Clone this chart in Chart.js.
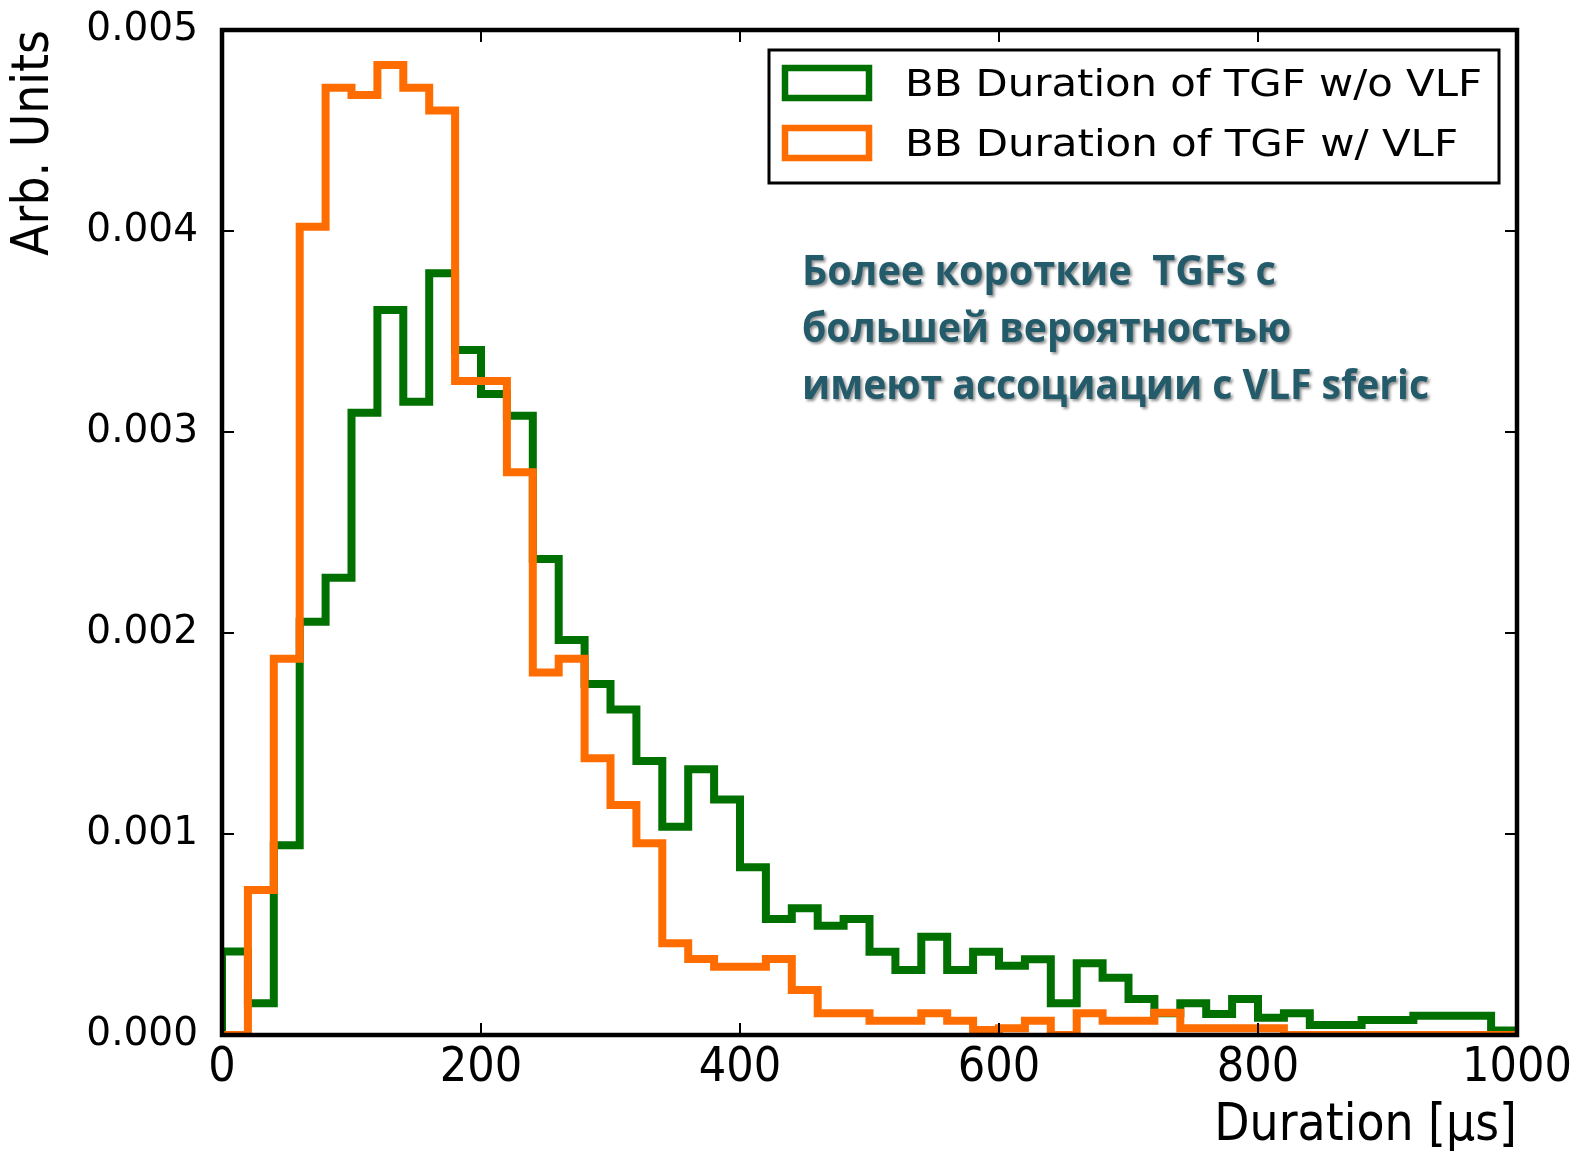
<!DOCTYPE html>
<html>
<head>
<meta charset="utf-8">
<script src="https://cdn.jsdelivr.net/npm/chart.js@4.4.1/dist/chart.umd.min.js"></script>
<style>
  body { margin: 0; background: #fff; }
</style>
</head>
<body>
<canvas id="myChart" width="1576" height="1152"></canvas>
<script>
// histogram, 50 bins of 20 us from 0 to 1000
const binWidth = 20;
const xTicks = [0, 200, 400, 600, 800, 1000];
const yTicks = [0, 0.001, 0.002, 0.003, 0.004, 0.005];

const noVlf = [
  0.000415, 0.000158, 0.000944, 0.002056, 0.002275, 0.003096, 0.003607, 0.003151, 0.003790, 0.003408,
  0.003189, 0.003081, 0.002368, 0.001965, 0.001746, 0.001620, 0.001363, 0.001036, 0.001322, 0.001172,
  0.000834, 0.000577, 0.000630, 0.000544, 0.000577, 0.000414, 0.000323, 0.000489, 0.000323, 0.000414,
  0.000345, 0.000377, 0.000158, 0.000357, 0.000285, 0.000179, 0.000108, 0.000158, 0.000104, 0.000179,
  0.000086, 0.000108, 0.000050, 0.000050, 0.000075, 0.000075, 0.000096, 0.000096, 0.000096, 0.000023
];

const withVlf = [
  0, 0.000721, 0.001872, 0.004021, 0.004713, 0.004677, 0.004826, 0.004713, 0.004599, 0.003254,
  0.003254, 0.002800, 0.001803, 0.001872, 0.001377, 0.001144, 0.000954, 0.000456, 0.000378, 0.000340,
  0.000340, 0.000378, 0.000224, 0.000108, 0.000108, 0.000071, 0.000071, 0.000108, 0.000071, 0.000025,
  0.000033, 0.000071, 0, 0.000108, 0.000071, 0.000071, 0.000111, 0.000033, 0.000033, 0.000033,
  0.000033, 0, 0, 0, 0, 0, 0, 0, 0, 0
];

const labels = ['BB Duration of TGF w/o VLF', 'BB Duration of TGF w/ VLF'];
const note = ['Более короткие  TGFs с', 'большей вероятностью', 'имеют ассоциации с VLF sferic'];

// step outline like matplotlib histtype='step'
function stepPoints(values) {
  const pts = [{ x: 0, y: 0 }];
  values.forEach((v, i) => pts.push({ x: i * binWidth, y: v }));
  const end = values.length * binWidth;
  pts.push({ x: end, y: values[values.length - 1] });
  pts.push({ x: end, y: 0 });
  return pts;
}

function drawFit(ctx, text, x, y, w, font) {
  ctx.font = font;
  const m = ctx.measureText(text).width;
  ctx.save();
  ctx.translate(x, y);
  ctx.scale(w / m, 1);
  ctx.fillText(text, 0, 0);
  ctx.restore();
}

const framePlugin = {
  id: 'frame',
  afterDraw(chart) {
    const { ctx, chartArea: a, scales } = chart;
    ctx.save();
    ctx.strokeStyle = '#000';
    ctx.lineWidth = 2;
    ctx.beginPath();
    scales.x.ticks.forEach(t => {
      const px = scales.x.getPixelForValue(t.value);
      ctx.moveTo(px, a.bottom); ctx.lineTo(px, a.bottom - 12);
      ctx.moveTo(px, a.top); ctx.lineTo(px, a.top + 12);
    });
    scales.y.ticks.forEach(t => {
      const py = scales.y.getPixelForValue(t.value);
      ctx.moveTo(a.left, py); ctx.lineTo(a.left + 12, py);
      ctx.moveTo(a.right, py); ctx.lineTo(a.right - 12, py);
    });
    ctx.stroke();
    ctx.lineWidth = 4.5;
    ctx.strokeRect(a.left, a.top, a.width, a.height);

    // legend box
    ctx.fillStyle = '#fff';
    ctx.fillRect(769, 50, 730, 133);
    ctx.lineWidth = 3;
    ctx.strokeRect(769, 50, 730, 133);
    const widths = [577, 553];
    chart.data.datasets.forEach((ds, i) => {
      const y0 = 68 + i * 60;
      ctx.strokeStyle = ds.borderColor;
      ctx.lineWidth = 6.5;
      ctx.strokeRect(785, y0, 84, 30);
      ctx.fillStyle = '#000';
      ctx.textBaseline = 'alphabetic';
      drawFit(ctx, ds.label, 905, y0 + 28, widths[i], '38px "DejaVu Sans"');
    });

    // annotation
    ctx.fillStyle = '#245b6a';
    ctx.shadowColor = 'rgba(0,0,0,0.45)';
    ctx.shadowOffsetX = 2;
    ctx.shadowOffsetY = 2;
    ctx.shadowBlur = 3;
    const noteW = [474, 489, 627];
    note.forEach((line, i) => {
      drawFit(ctx, line, 802, 285 + i * 57, noteW[i], 'bold 42px "Open Sans"');
    });
    ctx.restore();
  }
};

new Chart(document.getElementById('myChart'), {
  type: 'line',
  data: {
    datasets: [
      {
        label: labels[0],
        data: stepPoints(noVlf),
        borderColor: '#007000',
        borderWidth: 8,
        stepped: 'before',
        pointRadius: 0,
        fill: false,
        order: 1
      },
      {
        label: labels[1],
        data: stepPoints(withVlf),
        borderColor: '#ff6c00',
        borderWidth: 8,
        stepped: 'before',
        pointRadius: 0,
        fill: false,
        order: 0
      }
    ]
  },
  options: {
    responsive: false,
    devicePixelRatio: 1,
    animation: false,
    layout: { padding: { top: 30, right: 59, left: 0, bottom: 0 } },
    plugins: {
      legend: { display: false },
      tooltip: { enabled: false }
    },
    scales: {
      x: {
        type: 'linear',
        min: 0,
        max: 1000,
        afterBuildTicks: (scale) => { scale.ticks = xTicks.map(v => ({ value: v })); },
        afterFit: (scale) => {
          scale.height = 117;
          scale.paddingLeft = 0;
          scale.paddingRight = 0;
        },
        grid: { display: false, drawTicks: false },
        border: { display: false },
        ticks: {
          color: '#000',
          padding: 5,
          maxRotation: 0,
          callback: (v) => String(v),
          font: { family: '"DejaVu Sans Condensed", "DejaVu Sans"', size: 48 }
        },
        title: {
          display: true,
          text: 'Duration [μs]',
          align: 'end',
          color: '#000',
          padding: { top: 0, bottom: 0 },
          font: { family: '"DejaVu Sans Condensed", "DejaVu Sans"', size: 51, lineHeight: 1 }
        }
      },
      y: {
        min: 0,
        max: 0.005,
        afterBuildTicks: (scale) => { scale.ticks = yTicks.map(v => ({ value: v })); },
        afterFit: (scale) => {
          scale.width = 222;
          scale.paddingTop = 0;
          scale.paddingBottom = 0;
        },
        grid: { display: false, drawTicks: false },
        border: { display: false },
        ticks: {
          color: '#000',
          padding: 24,
          callback: (v) => v.toFixed(3),
          font: { family: '"DejaVu Sans"', size: 39 }
        },
        title: {
          display: true,
          text: 'Arb. Units',
          align: 'end',
          color: '#000',
          padding: { top: 4, bottom: 0 },
          font: { family: '"DejaVu Sans Condensed", "DejaVu Sans"', size: 51 }
        }
      }
    }
  },
  plugins: [framePlugin]
});
</script>
</body>
</html>
